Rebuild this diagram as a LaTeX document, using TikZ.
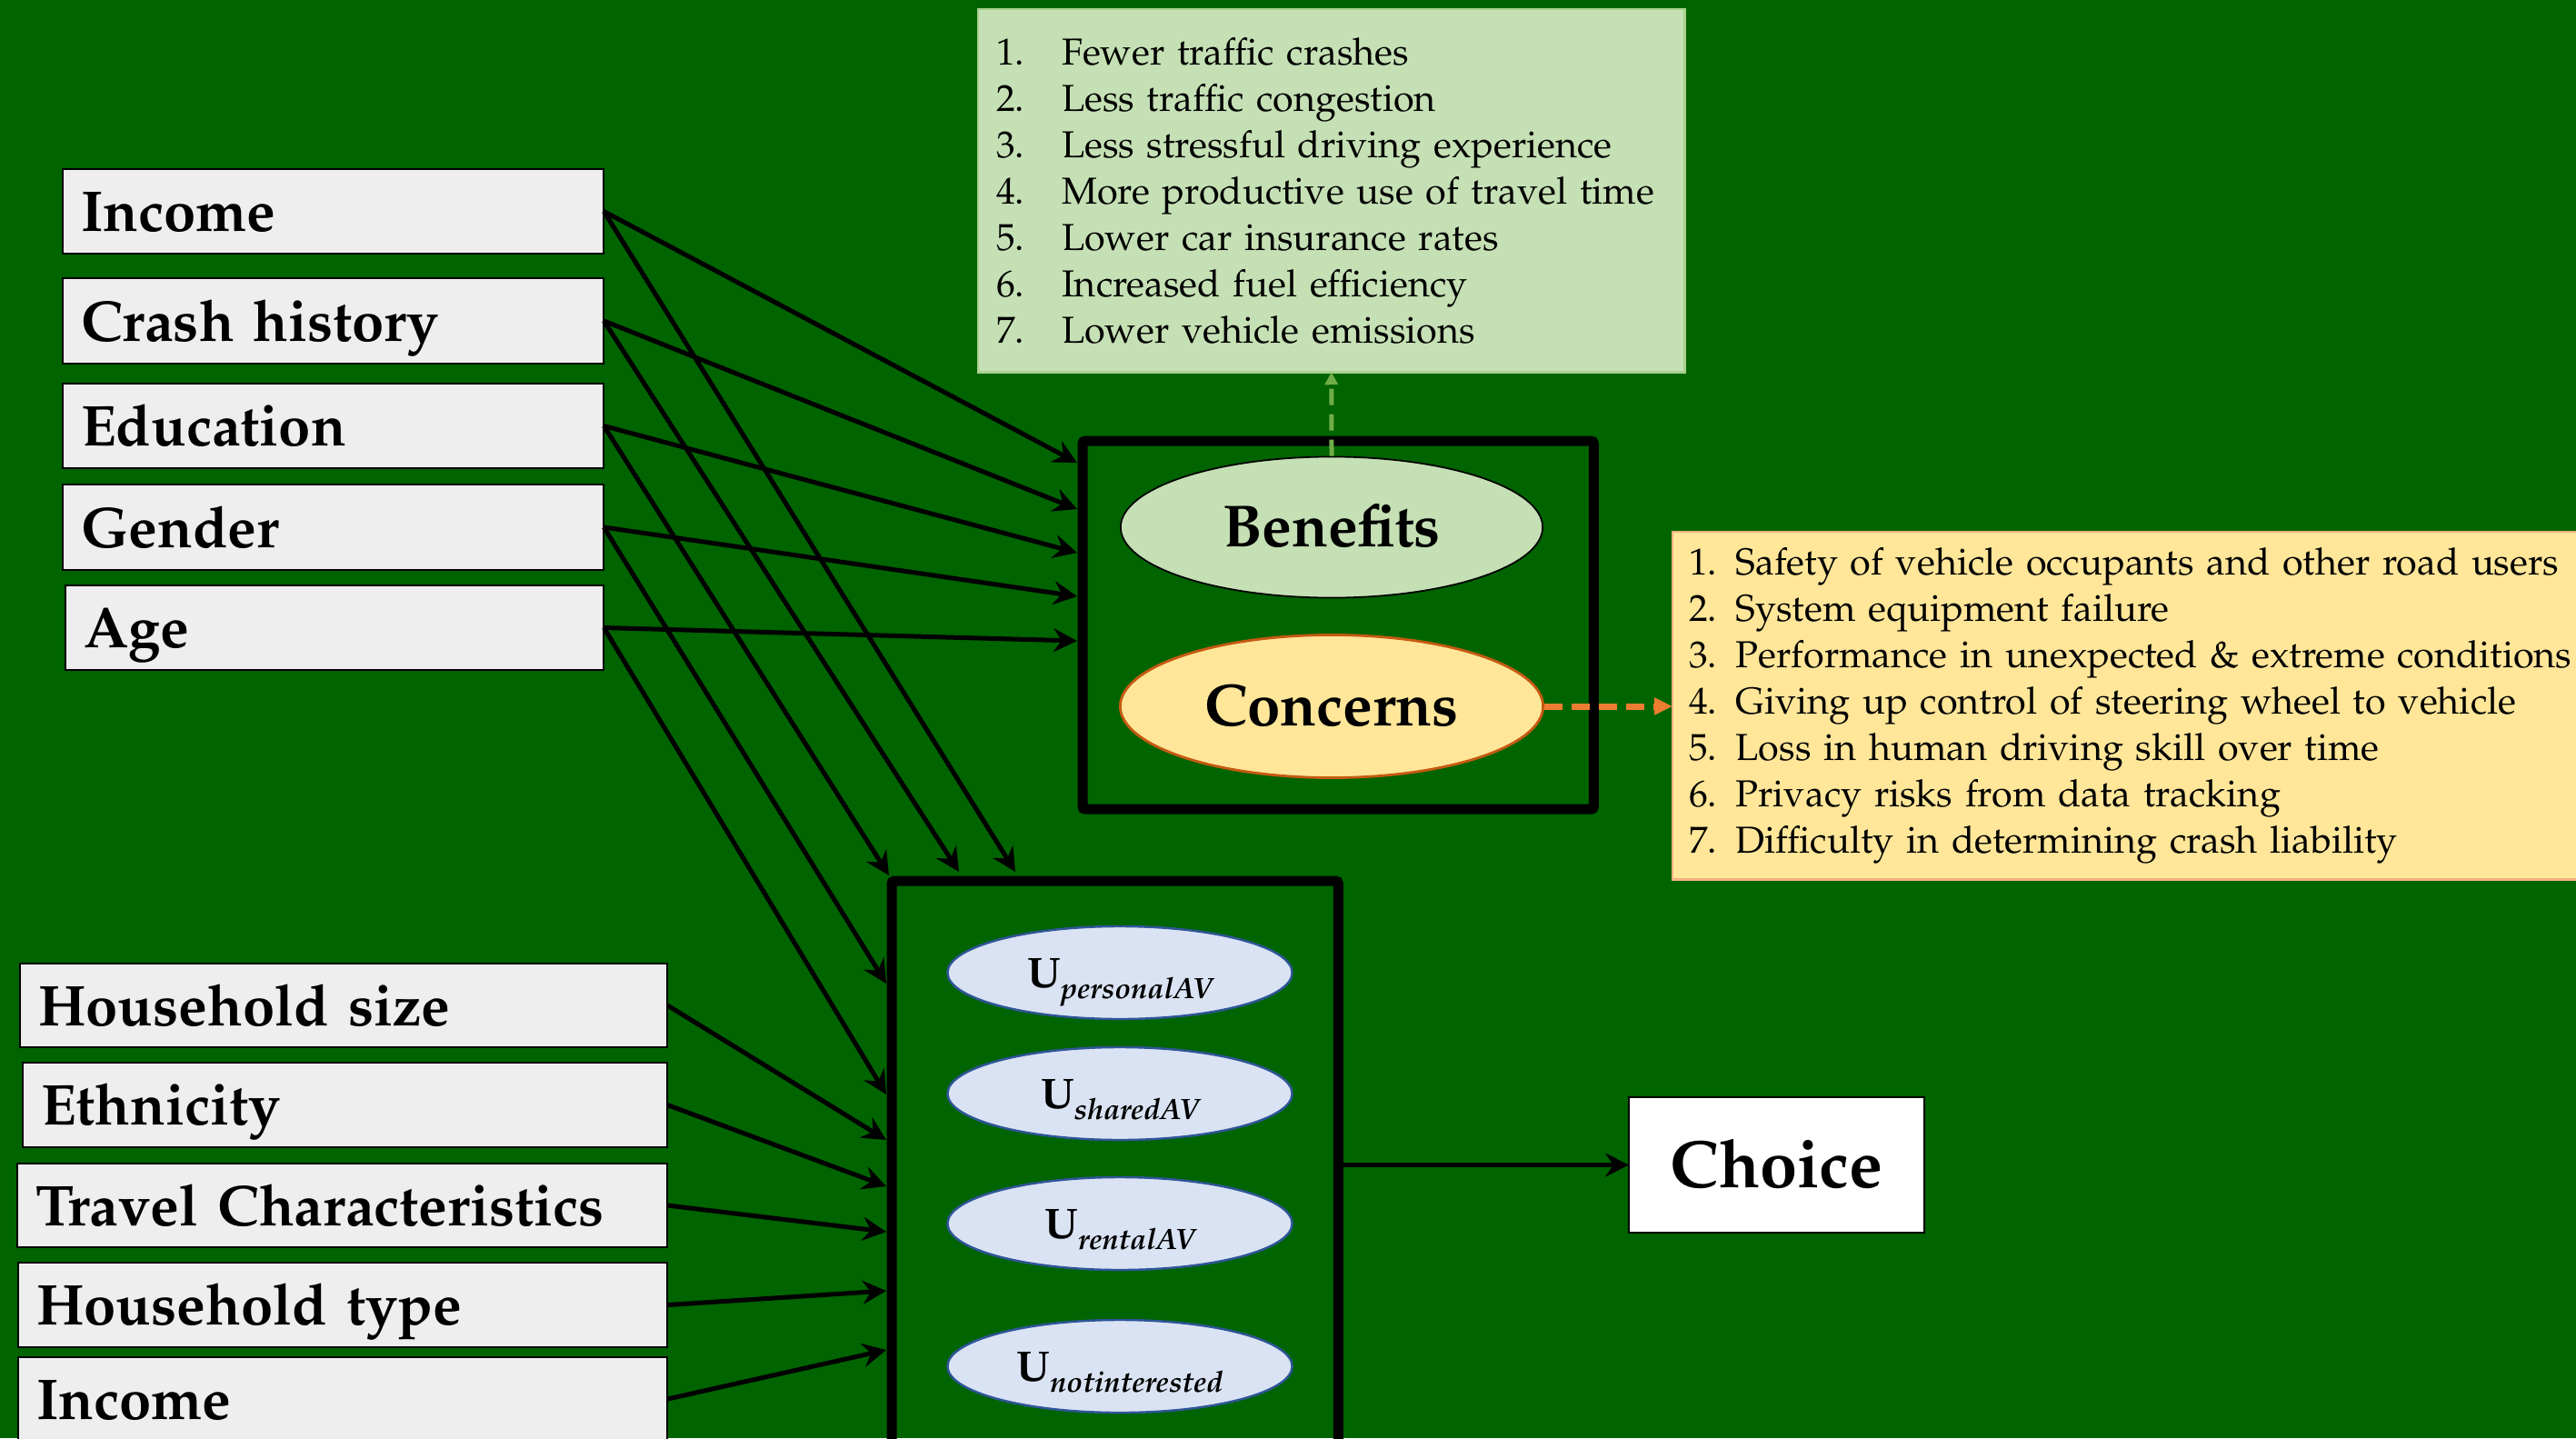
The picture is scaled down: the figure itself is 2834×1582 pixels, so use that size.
\documentclass[tikz,border=0pt]{standalone}
\usepackage[T1]{fontenc}
\usepackage{mathpazo}
\usetikzlibrary{arrows.meta,shapes.geometric}
\definecolor{bggreen}{RGB}{0,100,0}
\definecolor{boxgray}{RGB}{238,238,238}
\definecolor{benfill}{RGB}{197,224,180}
\definecolor{benborder}{RGB}{169,209,142}
\definecolor{benarrow}{RGB}{112,173,71}
\definecolor{confill}{RGB}{255,230,153}
\definecolor{conborder}{RGB}{197,90,17}
\definecolor{conarrow}{RGB}{237,125,49}
\definecolor{clistborder}{RGB}{244,177,131}
\definecolor{ufill}{RGB}{218,227,243}
\definecolor{uborder}{RGB}{47,85,151}
\newcommand\litem[1]{\makebox[0.72cm][l]{#1}}
\newcommand\usub[1]{U\raisebox{-3.4pt}{\fontsize{9.2}{10}\selectfont\bfseries\itshape #1}}
\begin{document}
\begin{tikzpicture}[x=0.01cm,y=-0.01cm,
  varbox/.style={draw=black, line width=0.6pt, fill=boxgray, anchor=north west, outer sep=0pt,
    inner xsep=0.2cm, inner ysep=0pt, align=left, text height=0.44cm, text depth=0pt,
    font=\fontsize{18}{21}\selectfont\bfseries},
  bigbox/.style={draw=black, line width=0.11cm, rounded corners=0.03cm, anchor=north west, inner sep=0pt, outer sep=0pt},
  arr/.style={draw=black, line width=0.05cm, -{Stealth[length=0.26cm,width=0.26cm,inset=0.09cm]}},
  benarr/.style={draw=benarrow, line width=0.05cm, dash pattern=on 0.18cm off 0.1cm, -{Triangle[length=0.14cm,width=0.14cm]}},
  conarr/.style={draw=conarrow, line width=0.07cm, dash pattern=on 0.2cm off 0.1cm, -{Triangle[length=0.2cm,width=0.18cm]}},
  bcell/.style={ellipse, inner sep=0pt, text height=0.43cm, text depth=0pt, font=\fontsize{18.6}{21}\selectfont\bfseries},
  uell/.style={ellipse, draw=uborder, line width=0.7pt, fill=ufill, minimum width=3.79cm, minimum height=1.02cm,
    inner sep=0pt, text height=0.33cm, text depth=0pt, font=\fontsize{13.4}{15}\selectfont\bfseries},
  listbox/.style={anchor=north west, align=left, inner ysep=0pt, outer sep=0pt, font=\fontsize{11.75}{14.5}\selectfont}
]
\fill[bggreen] (0,0) rectangle (2834,1582);
\useasboundingbox (0,0) rectangle (2834,1582);
\clip (0,0) rectangle (2834,1582);

% upper variable boxes
\node[varbox, text width=5.55cm, minimum height=0.93cm] (inc) at (69,186) {Income};
\node[varbox, text width=5.55cm, minimum height=0.94cm] (crash) at (69,306) {Crash history};
\node[varbox, text width=5.55cm, minimum height=0.93cm] (edu) at (69,422) {Education};
\node[varbox, text width=5.55cm, minimum height=0.94cm] (gen) at (69,533) {Gender};
\node[varbox, text width=5.52cm, minimum height=0.93cm] (age) at (72,644) {Age};

% lower variable boxes
\node[varbox, text width=6.72cm, minimum height=0.92cm] (hsize) at (22,1060) {Household size};
\node[varbox, text width=6.69cm, minimum height=0.93cm] (eth) at (25,1169) {Ethnicity};
\node[varbox, text width=6.75cm, minimum height=0.92cm] (trav) at (19,1280) {Travel Characteristics};
\node[varbox, text width=6.74cm, minimum height=0.93cm] (htype) at (20,1389) {Household type};
\node[varbox, text width=6.74cm, minimum height=0.92cm] (inc2) at (20,1493) {Income};

% lists
\node[listbox, draw=benborder, line width=0.8pt, fill=benfill, inner xsep=0.2cm, text width=7.37cm, minimum height=3.99cm] (blist) at (1076,10)
{\litem{1.}Fewer traffic crashes\\
 \litem{2.}Less traffic congestion\\
 \litem{3.}Less stressful driving experience\\
 \litem{4.}More productive use of travel time\\
 \litem{5.}Lower car insurance rates\\
 \litem{6.}Increased fuel efficiency\\
 \litem{7.}Lower vehicle emissions};

\node[listbox, draw=clistborder, line width=0.8pt, fill=confill, inner xsep=0.18cm, text width=10.2cm, minimum height=3.82cm] (clist) at (1840,585)
{1. Safety of vehicle occupants and other road users\\
 2. System equipment failure\\
 3. Performance in unexpected \& extreme conditions\\
 4. Giving up control of steering wheel to vehicle\\
 5. Loss in human driving skill over time\\
 6. Privacy risks from data tracking\\
 7. Difficulty in determining crash liability};

% containers
\node[bigbox, minimum width=5.62cm, minimum height=4.05cm] (bcbox) at (1191,485) {};
\node[bigbox, minimum width=4.91cm, minimum height=8cm] (ubox) at (981,969) {};

% benefits / concerns
\node[bcell, draw=black, line width=0.5pt, fill=benfill, minimum width=4.64cm, minimum height=1.55cm] (ben) at (1465,580) {Benefits};
\node[bcell, draw=conborder, line width=0.8pt, fill=confill, minimum width=4.65cm, minimum height=1.57cm] (con) at (1465,777) {Concerns};

% utilities
\node[uell] (upers) at (1232,1070) {\usub{personalAV}};
\node[uell] (ushar) at (1232,1203) {\usub{sharedAV}};
\node[uell] (urent) at (1232,1346) {\usub{rentalAV}};
\node[uell] (unot) at (1232,1503) {\usub{notinterested}};

% choice
\node[draw=black, line width=0.6pt, fill=white, anchor=north west, outer sep=0pt, minimum width=3.25cm, minimum height=1.49cm,
  inner sep=0pt, text height=0.5cm, text depth=0pt, font=\fontsize{21}{24}\selectfont\bfseries] (choice) at (1792,1207) {Choice};

% arrow targets
\coordinate (b1) at (1185,509);
\coordinate (b2) at (1185,560);
\coordinate (b3) at (1185,608);
\coordinate (b4) at (1185,656);
\coordinate (b5) at (1185,705);
\coordinate (t1) at (1117,959);
\coordinate (t2) at (1055,959);
\coordinate (t3) at (978,963);
\coordinate (l1) at (975,1082);
\coordinate (l2) at (975,1204);
\coordinate (l3) at (975,1254);
\coordinate (l4) at (975,1305);
\coordinate (l5) at (975,1355);
\coordinate (l6) at (975,1420);
\coordinate (l7) at (975,1485);

\draw[arr] (inc.east) -- (b1);
\draw[arr] (crash.east) -- (b2);
\draw[arr] (edu.east) -- (b3);
\draw[arr] (gen.east) -- (b4);
\draw[arr] (age.east) -- (b5);
\draw[arr] (inc.east) -- (t1);
\draw[arr] (crash.east) -- (t2);
\draw[arr] (edu.east) -- (t3);
\draw[arr] (gen.east) -- (l1);
\draw[arr] (age.east) -- (l2);
\draw[arr] (hsize.east) -- (l3);
\draw[arr] (eth.east) -- (l4);
\draw[arr] (trav.east) -- (l5);
\draw[arr] (htype.east) -- (l6);
\draw[arr] (inc2.east) -- (l7);

\draw[arr] (choice.west -| ubox.east) -- (choice.west);

\draw[benarr] (ben.north) -- (blist.south);
\draw[conarr] (con.east) -- (clist.west |- con.east);
\end{tikzpicture}
\end{document}
